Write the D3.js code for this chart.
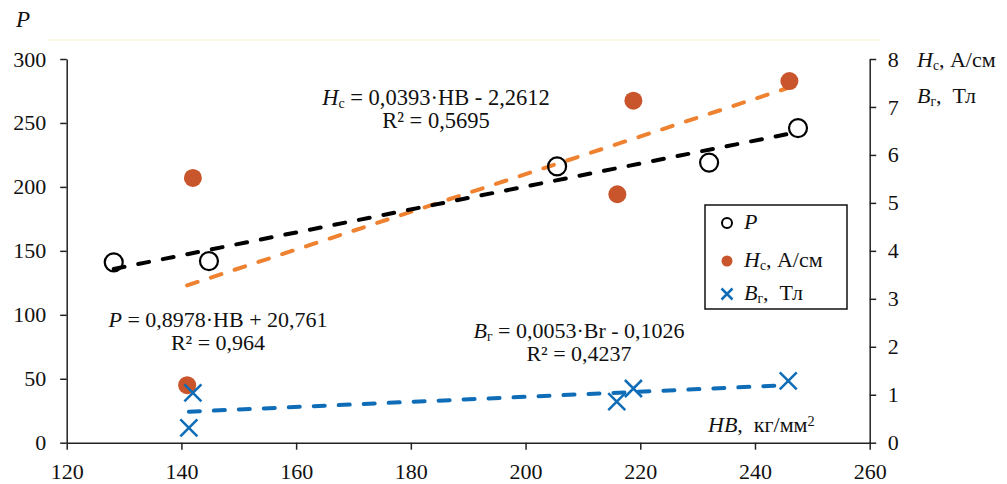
<!DOCTYPE html>
<html>
<head>
<meta charset="utf-8">
<script src="https://cdn.jsdelivr.net/npm/d3@7"></script>
<style>
  body { margin: 0; background: #fff; }
  svg { display: block; }
</style>
</head>
<body>
<div id="graph"></div>
<script>
// data
const hbP = [128.2, 144.8, 205.5, 232, 247.5];
const pVals = [141, 142, 216, 219, 246];

const hbHc = [141, 142, 216, 218.8, 246];
const hcVals = [1.2, 5.52, 5.18, 7.13, 7.54];

const hbBr = [141.3, 142, 215.9, 218.8, 245.8];
const brVals = [0.31, 1.04, 0.855, 1.13, 1.29];

// trend coefficients as printed on the chart [slope, intercept]
const trendP = [0.8978, 20.761];
const trendHc = [0.0393, -2.2612];
const trendBr = [0.0053, -0.1026];

const xTicks = [120, 140, 160, 180, 200, 220, 240, 260];
const yLeftTicks = [0, 50, 100, 150, 200, 250, 300];
const yRightTicks = [0, 1, 2, 3, 4, 5, 6, 7, 8];

const width = 1007,
  height = 484;
const plot = { left: 66.7, right: 869.7, top: 59, bottom: 442.7 };
const serif = "'Liberation Serif', 'Times New Roman', serif";
const sp = '\u00A0';

const cBlack = '#000000';
const cOrangeLine = '#EE8230';
const cOrangeDot = '#C8552B';
const cBlue = '#0F6DB8';

let svg = d3
  .select('#graph')
  .append('svg')
  .attr('width', width)
  .attr('height', height);

let xScale = d3.scaleLinear().domain([120, 260]).range([plot.left, plot.right]);
let yLeft = d3.scaleLinear().domain([0, 300]).range([plot.bottom, plot.top]);
let yRight = d3.scaleLinear().domain([0, 8]).range([plot.bottom, plot.top]);

// faint top border of the plot area
svg
  .append('line')
  .attr('x1', 48)
  .attr('x2', 880)
  .attr('y1', 40)
  .attr('y2', 40)
  .attr('stroke', '#FBF7DF')
  .attr('stroke-width', 1.5);

// axes
let xAxis = d3.axisBottom(xScale).tickValues(xTicks).tickSize(7).tickSizeOuter(0);
let yAxisL = d3.axisLeft(yLeft).tickValues(yLeftTicks).tickSize(6.5).tickPadding(14).tickSizeOuter(0);
let yAxisR = d3.axisRight(yRight).tickValues(yRightTicks).tickSize(6.5).tickPadding(11.5).tickSizeOuter(0);

function styleAxis(g) {
  g.selectAll('path, line').attr('stroke', '#222').attr('stroke-width', 1.5);
  g.selectAll('text')
    .style('font-family', serif)
    .style('font-size', '22px')
    .attr('fill', '#111');
}

svg
  .append('g')
  .attr('transform', 'translate(0,' + plot.bottom + ')')
  .call(xAxis)
  .call(styleAxis)
  .selectAll('text')
  .attr('dy', null)
  .attr('y', 36);

svg
  .append('g')
  .attr('transform', 'translate(' + plot.left + ',0)')
  .call(yAxisL)
  .call(styleAxis);

svg
  .append('g')
  .attr('transform', 'translate(' + plot.right + ',0)')
  .call(yAxisR)
  .call(styleAxis);

// rich text helper: parts = [text, italic?, 'sub'|'sup'|null]
function richText(x, y, size, parts, anchor) {
  let t = svg
    .append('text')
    .attr('x', x)
    .attr('y', y)
    .style('font-family', serif)
    .style('font-size', size + 'px')
    .attr('fill', '#111')
    .attr('text-anchor', anchor || 'start');
  parts.forEach((p) => {
    let s = t.append('tspan').text(p[0]);
    if (p[1]) s.style('font-style', 'italic');
    if (p[2] === 'sub') s.style('font-size', size * 0.62 + 'px').attr('baseline-shift', '-22%');
    if (p[2] === 'sup') s.style('font-size', size * 0.65 + 'px').attr('baseline-shift', '45%');
  });
  return t;
}

// trend lines
function trend(xs, coef, scale, color) {
  let ext = d3.extent(xs);
  let line = d3
    .line()
    .x((d) => xScale(d))
    .y((d) => scale(coef[0] * d + coef[1]));
  svg
    .append('path')
    .datum(ext)
    .attr('fill', 'none')
    .attr('stroke', color)
    .attr('stroke-width', 4)
    .attr('stroke-linecap', 'round')
    .attr('stroke-dasharray', '11,14')
    .attr('d', line);
}

trend(hbBr, trendBr, yRight, cBlue);
trend(hbHc, trendHc, yRight, cOrangeLine);
trend(hbP, trendP, yLeft, cBlack);

// Hc points
svg
  .append('g')
  .selectAll('circle')
  .data(hbHc)
  .join('circle')
  .attr('cx', (d) => xScale(d))
  .attr('cy', (d, i) => yRight(hcVals[i]))
  .attr('r', 9)
  .attr('fill', cOrangeDot);

// P points
svg
  .append('g')
  .selectAll('circle')
  .data(hbP)
  .join('circle')
  .attr('cx', (d) => xScale(d))
  .attr('cy', (d, i) => yLeft(pVals[i]))
  .attr('r', 9)
  .attr('fill', 'none')
  .attr('stroke', cBlack)
  .attr('stroke-width', 2.2);

// Br points
let crossPath = (cx, cy, s) =>
  'M' + (cx - s) + ',' + (cy - s) + 'L' + (cx + s) + ',' + (cy + s) +
  'M' + (cx - s) + ',' + (cy + s) + 'L' + (cx + s) + ',' + (cy - s);

svg
  .append('g')
  .selectAll('path')
  .data(hbBr)
  .join('path')
  .attr('d', (d, i) => crossPath(xScale(d), yRight(brVals[i]), 8.5))
  .attr('fill', 'none')
  .attr('stroke', cBlue)
  .attr('stroke-width', 2.5);

// equations
richText(436, 105, 22.5, [['H', true], ['c', false, 'sub'], [' = 0,0393·HB - 2,2612']], 'middle');
richText(436, 128, 22.5, [['R² = 0,5695']], 'middle');

richText(218, 327, 22, [['P', true], [' = 0,8978·HB + 20,761']], 'middle');
richText(218, 350, 22, [['R² = 0,964']], 'middle');

richText(579, 338, 22, [['B', true], ['г', false, 'sub'], [' = 0,0053·Br - 0,1026']], 'middle');
richText(579, 361, 22, [['R² = 0,4237']], 'middle');

// axis titles
richText(16, 27, 23, [['P', true]]);
richText(708, 432, 22, [['HB', true], [',' + sp + sp + 'кг/мм'], ['2', false, 'sup']]);
richText(917, 67, 22, [['H', true], ['с', false, 'sub'], [', А/см']]);
richText(917, 103, 22, [['B', true], ['г', false, 'sub'], [',' + sp + sp + 'Тл']]);

// legend
svg
  .append('rect')
  .attr('x', 705)
  .attr('y', 205)
  .attr('width', 142)
  .attr('height', 104)
  .attr('fill', '#fff')
  .attr('stroke', '#111')
  .attr('stroke-width', 1.5);

svg
  .append('circle')
  .attr('cx', 727)
  .attr('cy', 223)
  .attr('r', 5)
  .attr('fill', 'none')
  .attr('stroke', cBlack)
  .attr('stroke-width', 2);
svg.append('circle').attr('cx', 727).attr('cy', 261).attr('r', 5.5).attr('fill', cOrangeDot);
svg
  .append('path')
  .attr('d', crossPath(727, 294, 5.5))
  .attr('fill', 'none')
  .attr('stroke', cBlue)
  .attr('stroke-width', 2.5);

richText(744, 229, 22, [['P', true]]);
richText(744, 267, 22, [['H', true], ['с', false, 'sub'], [', А/см']]);
richText(744, 300, 22, [['B', true], ['г', false, 'sub'], [',' + sp + sp + 'Тл']]);
</script>
</body>
</html>
